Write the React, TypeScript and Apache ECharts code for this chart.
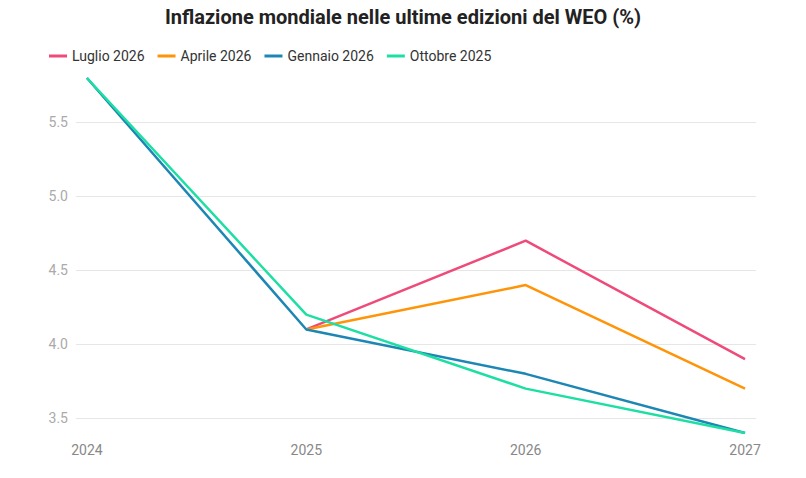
import React, { useEffect, useRef } from "react";
import * as echarts from "echarts";

const years = [2024, 2025, 2026, 2027];
const luglio2026 = [null, 4.1, 4.7, 3.9];
const aprile2026 = [null, 4.1, 4.4, 3.7];
const gennaio2026 = [5.8, 4.1, 3.8, 3.4];
const ottobre2025 = [5.8, 4.2, 3.7, 3.4];
const yTicks = [3.5, 4.0, 4.5, 5.0, 5.5];

const seriesDefs = [
  { name: "Luglio 2026", data: luglio2026, color: "#ef4b7a" },
  { name: "Aprile 2026", data: aprile2026, color: "#ff9408" },
  { name: "Gennaio 2026", data: gennaio2026, color: "#1c86b4" },
  { name: "Ottobre 2025", data: ottobre2025, color: "#1ddfa3" },
];

export default function App() {
  const ref = useRef<HTMLDivElement>(null);
  useEffect(() => {
    document.body.style.margin = "0";
    const chart = echarts.init(ref.current!, null, { renderer: "svg" });
    chart.setOption({
      animation: false,
      backgroundColor: "#ffffff",
      title: {
        text: "Inflazione mondiale nelle ultime edizioni del WEO (%)",
        left: "center",
        top: 2,
        textStyle: { fontFamily: "Roboto", fontSize: 20, fontWeight: "bold", color: "#222222" },
      },
      legend: {
        left: 44,
        top: 44,
        icon: "rect",
        itemWidth: 18,
        itemHeight: 3,
        itemGap: 13,
        textStyle: { fontFamily: "Roboto", fontSize: 14, color: "#333333" },
        data: seriesDefs.map((s) => s.name),
      },
      grid: { left: 76, right: 50, top: 78, bottom: 45 },
      xAxis: {
        type: "value",
        min: 2023.95,
        max: 2027.05,
        axisLine: { show: false },
        axisTick: { show: false },
        splitLine: { show: false },
        axisLabel: {
          customValues: years,
          margin: 10,
          fontFamily: "Roboto",
          fontSize: 14,
          color: "#888888",
          formatter: (v: number) => String(Math.round(v)),
        },
      },
      yAxis: {
        type: "value",
        min: 3.4,
        max: 5.8,
        axisLine: { show: false },
        axisTick: { show: false, customValues: yTicks },
        splitLine: { show: true, lineStyle: { color: "#e6e6e6", width: 1 } },
        axisLabel: {
          customValues: yTicks,
          margin: 8,
          fontFamily: "Roboto",
          fontSize: 14,
          color: "#aaaaaa",
          formatter: (v: number) => v.toFixed(1),
        },
      },
      series: seriesDefs.map((s) => ({
        name: s.name,
        type: "line",
        data: years.map((y, i) => [y, s.data[i]]),
        connectNulls: false,
        showSymbol: false,
        symbol: "none",
        color: s.color,
        lineStyle: { color: s.color, width: 2.5 },
      })),
    });
    return () => chart.dispose();
  }, []);
  return <div ref={ref} style={{ width: 806, height: 478 }} />;
}
